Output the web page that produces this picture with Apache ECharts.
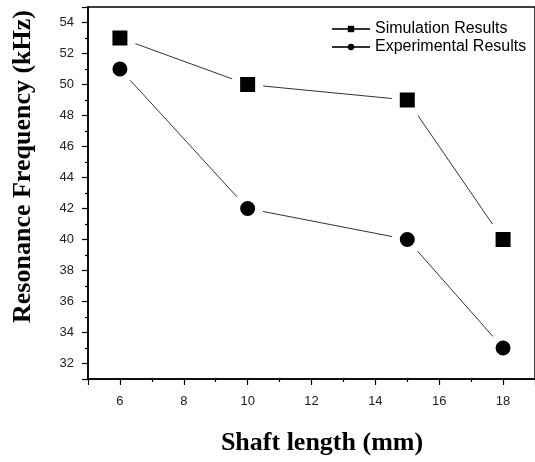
<!DOCTYPE html>
<html><head><meta charset="utf-8">
<script src="https://cdn.jsdelivr.net/npm/echarts@6/dist/echarts.min.js"></script>
<style>html,body{margin:0;padding:0;background:#fff}#c{width:535px;height:462px}</style>
</head><body><div id="c"></div>
<script>
const shaftLength = [6, 10, 15, 18];
const simulation = [53, 50, 49, 40];
const experimental = [51, 42, 40, 33];
const seriesNames = ['Simulation Results', 'Experimental Results'];
const xTitle = 'Shaft length (mm)';
const yTitle = 'Resonance Frequency (kHz)';

const pairs = (ys) => shaftLength.map((x, i) => [x, ys[i]]);
const chart = echarts.init(document.getElementById('c'), null, {renderer: 'canvas'});
const axisCommon = {
  type: 'value',
  axisLine: {show: true, lineStyle: {color: '#000', width: 1.5}},
  axisTick: {show: true, inside: false, length: 6, lineStyle: {color: '#000', width: 1.2}},
  minorTick: {show: true, splitNumber: 2, length: 3, lineStyle: {color: '#000', width: 1.2}},
  splitLine: {show: false},
  axisLabel: {color: '#222', fontFamily: 'Liberation Sans', fontSize: 13, showMinLabel: false, showMaxLabel: false},
  nameLocation: 'middle',
  nameTextStyle: {fontFamily: 'Liberation Serif', fontWeight: 'bold', fontSize: 26, color: '#000'}
};
chart.setOption({
  animation: false,
  backgroundColor: '#fff',
  grid: {left: 88, right: -2, top: 7, bottom: 83, show: true, borderColor: '#000', borderWidth: 1.5},
  legend: {
    orient: 'vertical', left: 331, top: 21, padding: 0, itemWidth: 38, itemHeight: 8, itemGap: 2,
    textStyle: {fontFamily: 'Liberation Sans', fontSize: 16, color: '#000'},
    itemStyle: {borderWidth: 0},
    data: seriesNames
  },
  xAxis: Object.assign({}, axisCommon, {
    min: 5, max: 19, splitNumber: 7,
    axisLabel: Object.assign({}, axisCommon.axisLabel, {margin: 16}),
    name: xTitle, nameGap: 51,
    nameTextStyle: Object.assign({}, axisCommon.nameTextStyle, {padding: [0, 0, 0, 21]})
  }),
  yAxis: Object.assign({}, axisCommon, {
    min: 31, max: 55, splitNumber: 12,
    axisLabel: Object.assign({}, axisCommon.axisLabel, {margin: 14}),
    name: yTitle, nameGap: 52,
    nameTextStyle: Object.assign({}, axisCommon.nameTextStyle, {padding: [0, 0, 0, 53]})
  }),
  series: [
    {
      name: seriesNames[0], type: 'line', data: pairs(simulation),
      symbol: 'rect', symbolSize: 23,
      lineStyle: {color: '#333', width: 1},
      itemStyle: {color: '#000', borderColor: '#fff', borderWidth: 8}
    },
    {
      name: seriesNames[1], type: 'line', data: pairs(experimental),
      symbol: 'circle', symbolSize: 23,
      lineStyle: {color: '#333', width: 1},
      itemStyle: {color: '#000', borderColor: '#fff', borderWidth: 8}
    }
  ]
});
</script>
</body></html>
